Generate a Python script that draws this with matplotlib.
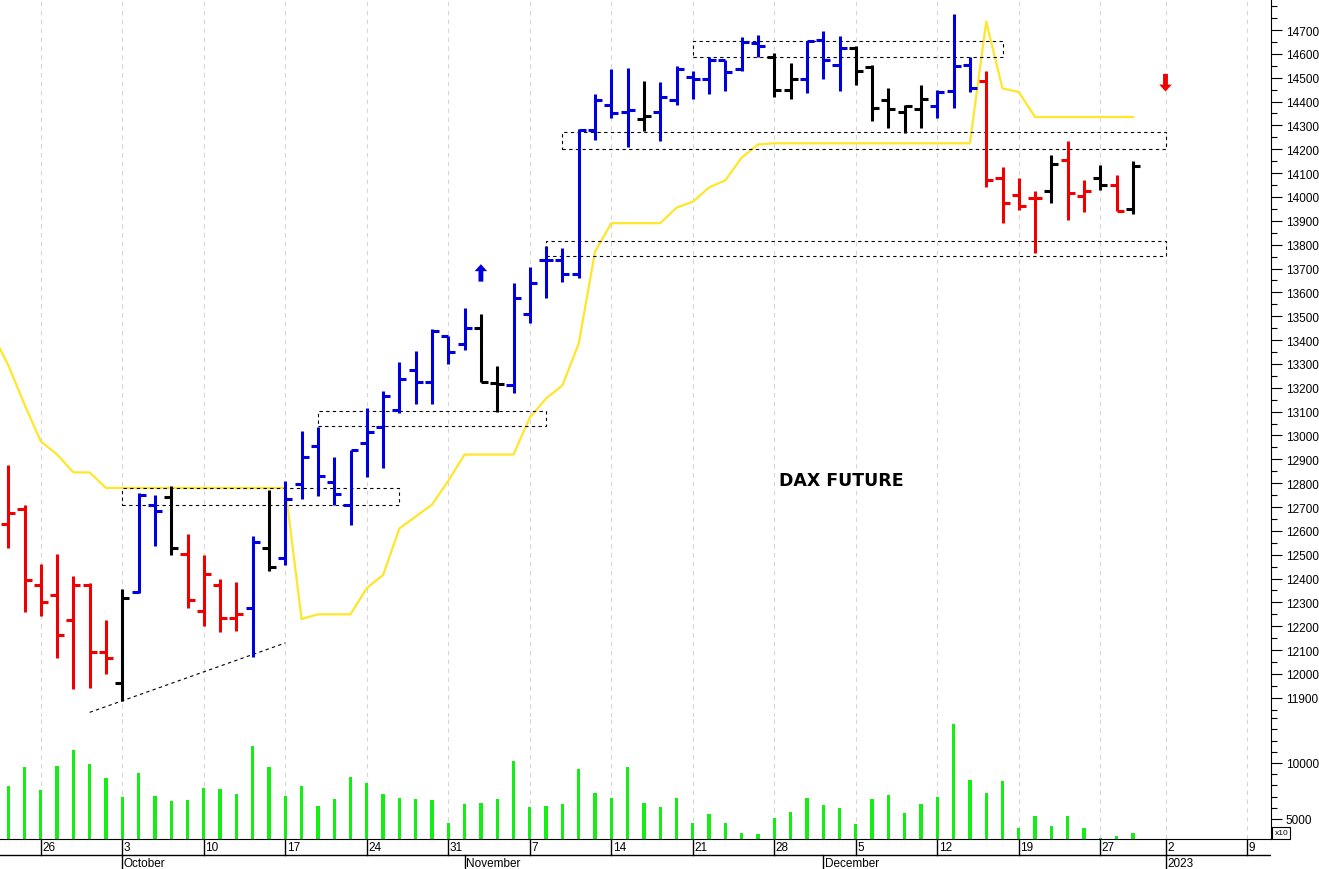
import pandas as pd
import matplotlib
matplotlib.use('Agg')
import matplotlib.pyplot as plt
from matplotlib.patches import Rectangle
from matplotlib.ticker import MultipleLocator, FixedLocator

plt.rcParams['font.family'] = ['Liberation Sans', 'DejaVu Sans']

# trading calendar (no session on Dec 26)
cal = [d for d in pd.bdate_range('2022-09-21', '2023-01-13') if d != pd.Timestamp('2022-12-26')]
pos = {d: i for i, d in enumerate(cal)}
T = pd.Timestamp

bar_dates = [d for d in cal if T('2022-09-22') <= d <= T('2022-12-29')]
line_dates = [d for d in cal if d <= T('2022-12-29')]

# OHLC
opens = [12630, 12690, 12375, 12330, 12225, 12375, 12090,
         11960, 12345, 12710, 12740, 12505,
         12265, 12375, 12235, 12275, 12530,
         12485, 12795, 12955, 12805, 12710,
         12970, 13035, 13105, 13275, 13225,
         13415, 13385, 13450, 13220, 13210,
         13510, 13735, 13735, 13675, 14280,
         14385, 14355, 14325, 14355, 14405,
         14505, 14495, 14575, 14535, 14645,
         14585, 14450, 14495, 14660, 14555,
         14625, 14545, 14405, 14355, 14370,
         14380, 14445, 14555, 14485, 14080,
         14010, 13995, 14025, 14155, 14005,
         14080, 14050, 13950]
highs = [12875, 12710, 12460, 12505, 12410, 12380, 12225,
         12355, 12760, 12750, 12790, 12585,
         12500, 12400, 12385, 12580, 12770,
         12810, 13020, 13035, 12910, 12940,
         13115, 13185, 13310, 13355, 13445,
         13415, 13535, 13510, 13290, 13640,
         13705, 13795, 13785, 14285, 14430,
         14535, 14540, 14485, 14480, 14550,
         14530, 14585, 14575, 14670, 14680,
         14605, 14560, 14655, 14695, 14675,
         14635, 14555, 14455, 14385, 14470,
         14450, 14765, 14585, 14530, 14125,
         14080, 14025, 14175, 14235, 14070,
         14135, 14090, 14150]
lows = [12530, 12260, 12245, 12065, 11935, 11940, 12000,
        11885, 12340, 12535, 12500, 12275,
        12200, 12175, 12180, 12070, 12430,
        12455, 12735, 12745, 12710, 12625,
        12825, 12865, 13095, 13130, 13130,
        13300, 13360, 13225, 13100, 13180,
        13470, 13575, 13645, 13660, 14240,
        14330, 14210, 14275, 14235, 14385,
        14410, 14430, 14445, 14530, 14585,
        14420, 14410, 14435, 14495, 14445,
        14470, 14320, 14290, 14270, 14290,
        14330, 14375, 14440, 14040, 13890,
        13945, 13765, 13975, 13905, 13935,
        14030, 13940, 13930]
closes = [12675, 12395, 12300, 12165, 12375, 12090, 12065,
          12320, 12750, 12685, 12530, 12310,
          12420, 12235, 12250, 12555, 12450,
          12735, 12910, 12830, 12755, 12940,
          13015, 13165, 13235, 13225, 13440,
          13350, 13450, 13225, 13215, 13575,
          13640, 13735, 13675, 14280, 14405,
          14350, 14365, 14340, 14420, 14535,
          14495, 14575, 14525, 14650, 14635,
          14450, 14495, 14655, 14575, 14625,
          14530, 14375, 14370, 14380, 14410,
          14440, 14550, 14455, 14070, 13975,
          13960, 13995, 14140, 14015, 14025,
          14050, 13940, 14130]
trend = list('rrrrrrr' 'kbbkr' 'rrrbk' 'bbbbb' 'bbbbb' 'bbkkb' 'bbbbb'
             'bbkbb' 'bbbbb' 'kkbbb' 'kkkkk' 'bbbrr' 'rrkrr' 'krk')
volume = [7920, 9620, 7590, 9730, 11190, 9880, 8630,
          6960, 9080, 7050, 6610, 6670,
          7770, 7650, 7230, 11490, 9640,
          7050, 7920, 6190, 6760, 8780,
          8210, 7210, 6880, 6760, 6670,
          4640, 6340, 6460, 6760, 10150,
          6050, 6160, 6310, 9460, 7300,
          6880, 9640, 6400, 6070, 6850,
          4620, 5420, 4620, 3780, 3630,
          5060, 5600, 6850, 6280, 5960,
          4530, 6760, 7140, 5510, 6370,
          6940, 13480, 8460, 7320, 8420,
          4220, 5240, 4380, 5240, 4170,
          3300, 3480, 3780]
stop_line = [13430, 13295, 13130,
             12975, 12920, 12845, 12845, 12780,
             12780, 12780, 12780, 12780, 12780,
             12780, 12780, 12780, 12780, 12780,
             12780, 12230, 12250, 12250, 12250,
             12360, 12415, 12610, 12660, 12710,
             12810, 12920, 12920, 12920, 12920,
             13075, 13155, 13210, 13385, 13770,
             13890, 13890, 13890, 13890, 13955,
             13980, 14040, 14070, 14165, 14220,
             14225, 14225, 14225, 14225, 14225,
             14225, 14225, 14225, 14225, 14225,
             14225, 14225, 14225, 14735, 14455,
             14440, 14335, 14335, 14335, 14335,
             14335, 14335, 14335]

# dotted boxes: start, end, low, high
box_start = ['2022-10-03', '2022-10-19', '2022-11-09', '2022-11-21', '2022-11-08']
box_end = ['2022-10-26', '2022-11-08', '2023-01-02', '2022-12-16', '2023-01-02']
box_low = [12708, 13038, 14201, 14587, 13752]
box_high = [12778, 13104, 14271, 14652, 13817]
trend_dates = ['2022-09-29', '2022-10-17']
trend_vals = [11839, 12130]

colmap = {'r': '#F00000', 'b': '#0000DC', 'k': '#000000'}
colors = [colmap[t] for t in trend]

W, H = 1319.0, 870.0
RX = 1271.0
fig = plt.figure(figsize=(W / 100, H / 100), dpi=100)
ax = fig.add_axes([0, 152 / H, RX / W, 718 / H])
axv = fig.add_axes([0, 30 / H, RX / W, 122 / H], sharex=ax)
axd = fig.add_axes([0, 0, RX / W, 30 / H], sharex=ax)

x = [pos[d] for d in bar_dates]
xl = [p - 0.43 for p in x]
xr = [p + 0.43 for p in x]

# weekly grid
week_starts = []
for d in cal:
    if not week_starts or d.isocalendar()[1] != week_starts[-1].isocalendar()[1]:
        week_starts.append(d)
week_starts = [d for d in week_starts if d >= T('2022-09-26')]
for d in week_starts:
    ax.axvline(pos[d], color='#d6d6d6', lw=0.8, ls=(0, (4, 4)), zorder=0)
    axv.axvline(pos[d], color='#d6d6d6', lw=0.8, ls=(0, (4, 4)), zorder=0)

# stop line
ax.plot([pos[d] for d in line_dates], stop_line, color='#FFE629', lw=1.6, zorder=1)

# OHLC bars
ax.vlines(x, lows, highs, colors=colors, lw=2.2, zorder=3)
ax.hlines(opens, xl, x, colors=colors, lw=2.2, zorder=3)
ax.hlines(closes, x, xr, colors=colors, lw=2.2, zorder=3)

# boxes and trendline
for s, e, lo, hi in zip(box_start, box_end, box_low, box_high):
    ax.add_patch(Rectangle((pos[T(s)], lo), pos[T(e)] - pos[T(s)], hi - lo, fill=False,
                           ec='black', lw=0.8, ls=(0, (3, 3)), zorder=2))
ax.plot([pos[T(d)] for d in trend_dates], trend_vals, color='black', lw=0.8, ls=(0, (3, 3)))

# signal arrows
ax.annotate('', xy=(pos[T('2022-11-02')], 13718), xytext=(pos[T('2022-11-02')], 13645),
            arrowprops=dict(arrowstyle='simple,head_length=0.5,head_width=0.9,tail_width=0.35',
                            color='#0000DC', lw=0, shrinkA=0, shrinkB=0), annotation_clip=False)
ax.annotate('', xy=(pos[T('2023-01-02')], 14442), xytext=(pos[T('2023-01-02')], 14516),
            arrowprops=dict(arrowstyle='simple,head_length=0.5,head_width=0.9,tail_width=0.35',
                            color='#F00000', lw=0, shrinkA=0, shrinkB=0), annotation_clip=False)

ax.text(52.1, 12813, 'DAX FUTURE', fontsize=12.5, fontweight='bold', family='DejaVu Sans',
        ha='center', va='center')

# price axis
ax.set_xlim(3 - 40.8 / 16.3, 3 + (RX - 40.8) / 16.3)
ax.set_ylim(14700 - 687 * 100 / 23.85, 14700 + 31 * 100 / 23.85)
ax.yaxis.tick_right()
ax.set_yticks(list(range(11900, 14701, 100)))
ax.yaxis.set_minor_locator(MultipleLocator(50))
ax.tick_params(axis='y', which='major', direction='out', length=8, width=0.8, labelsize=8.5, pad=2.5)
ax.tick_params(axis='y', which='minor', direction='out', length=4, width=0.8)
ax.tick_params(axis='x', bottom=False, labelbottom=False)
for s in ['top', 'left', 'bottom']:
    ax.spines[s].set_visible(False)

# volume
axv.bar(x, volume, width=0.2, color='#14EE14', zorder=2)
axv.set_ylim(5000 - 20 * 5000 / 56, 5000 + 102 * 5000 / 56)
axv.yaxis.tick_right()
axv.set_yticks([5000, 10000])
axv.set_yticklabels(['5000', '10000'])
axv.yaxis.set_minor_locator(FixedLocator(range(4000, 14001, 1000)))
axv.tick_params(axis='y', which='major', direction='out', length=8, width=0.8, labelsize=8.5, pad=2.5)
axv.tick_params(axis='y', which='minor', direction='out', length=4, width=0.8)
axv.tick_params(axis='x', bottom=False, labelbottom=False)
for s in ['top', 'left']:
    axv.spines[s].set_visible(False)
fig.text(1274.5 / W, 1 - 834 / H, 'x10', fontsize=6, va='center', ha='left',
         bbox=dict(boxstyle='square,pad=0.25', fc='white', ec='black', lw=0.8))

# date strip
axd.set_ylim(30, 0)
axd.axis('off')
axd.axhline(16, color='black', lw=1)
for d in week_starts:
    axd.plot([pos[d], pos[d]], [0, 16], color='black', lw=1)
    axd.text(pos[d] + 0.1, 8.5, str(d.day), fontsize=8.5, va='center', ha='left')
months = [('2022-10-03', 'October'), ('2022-11-01', 'November'),
          ('2022-12-01', 'December'), ('2023-01-02', '2023')]
for d, lab in months:
    axd.plot([pos[T(d)], pos[T(d)]], [16, 30], color='black', lw=1)
    axd.text(pos[T(d)] + 0.1, 24, lab, fontsize=8.5, va='center', ha='left')

fig.savefig('out.png', dpi=100, facecolor='white')
